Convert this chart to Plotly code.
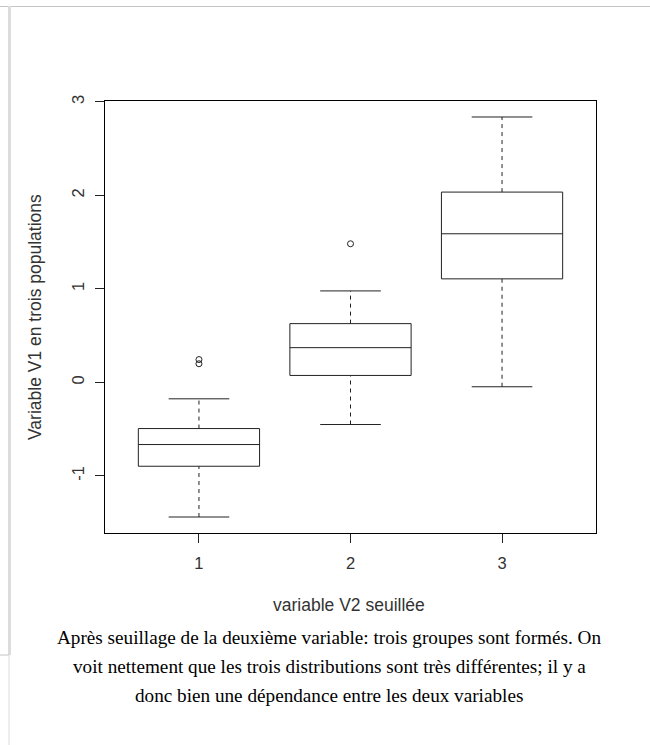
import plotly.graph_objects as go

# ---- data ----
groups = [1, 2, 3]
q1 = [-0.896, 0.075, 1.108]
median = [-0.664, 0.372, 1.590]
q3 = [-0.493, 0.629, 2.036]
lower_whisker = [-1.439, -0.450, -0.046]
upper_whisker = [-0.175, 0.979, 2.839]
outlier_x = [1, 1, 2]
outlier_y = [0.245, 0.200, 1.483]
y_ticks = [-1, 0, 1, 2, 3]
x_ticks = [1, 2, 3]

x_title = "variable V2 seuillée"
y_title = "Variable V1 en trois populations"
caption_lines = [
    "Après seuillage de la deuxième variable: trois groupes sont formés. On",
    "voit nettement que les trois distributions sont très différentes; il y a",
    "donc bien une dépendance entre les deux variables",
]

# ---- layout constants ----
FIG_W, FIG_H = 650, 745
ML, MR, MT, MB = 105, 54, 101, 212
PW, PH = FIG_W - ML - MR, FIG_H - MT - MB
BOX_W = 0.8
STAPLE_HALF = 0.2
INK = "#222222"
TEXT = "#333333"
SANS = "Liberation Sans, Arial, sans-serif"
SERIF = "Liberation Serif, Times New Roman, serif"


def px_x(px):
    return (px - ML) / PW


def px_y(py):
    return 1 - (py - MT) / PH


fig = go.Figure()

# boxes (quartiles + median)
for g, a, m, b in zip(groups, q1, median, q3):
    fig.add_trace(go.Box(
        x=[g], q1=[a], median=[m], q3=[b], lowerfence=[a], upperfence=[b],
        width=BOX_W, whiskerwidth=0, boxpoints=False,
        fillcolor="rgba(255,255,255,0)", line=dict(color=INK, width=1),
        showlegend=False, hoverinfo="skip",
    ))

# dashed whiskers
for g, a, b, lo, hi in zip(groups, q1, q3, lower_whisker, upper_whisker):
    fig.add_trace(go.Scatter(
        x=[g, g, None, g, g], y=[lo, a, None, b, hi], mode="lines",
        line=dict(color=INK, width=1, dash="4px,4px"),
        showlegend=False, hoverinfo="skip",
    ))
    # staples
    fig.add_trace(go.Scatter(
        x=[g - STAPLE_HALF, g + STAPLE_HALF, None, g - STAPLE_HALF, g + STAPLE_HALF],
        y=[lo, lo, None, hi, hi], mode="lines",
        line=dict(color=INK, width=1),
        showlegend=False, hoverinfo="skip",
    ))

# outliers
fig.add_trace(go.Scatter(
    x=outlier_x, y=outlier_y, mode="markers",
    marker=dict(symbol="circle-open", size=6, color=INK, line=dict(width=1)),
    showlegend=False, hoverinfo="skip",
))

axis_common = dict(
    showgrid=False, zeroline=False, showline=True, mirror=True,
    linecolor="black", linewidth=1, ticks="outside", ticklen=9,
    tickwidth=1, tickcolor=INK,
    tickfont=dict(family=SANS, size=16.5, color=TEXT),
)

fig.update_layout(
    width=FIG_W, height=FIG_H,
    margin=dict(l=ML, r=MR, t=MT, b=MB, pad=0),
    paper_bgcolor="white", plot_bgcolor="white",
    xaxis=dict(range=[0.38, 3.62], tickvals=x_ticks,
               ticktext=[str(v) for v in x_ticks], ticklabelstandoff=6,
               **axis_common),
    yaxis=dict(range=[-1.61, 3.01], tickvals=y_ticks,
               ticktext=[str(v) for v in y_ticks], tickangle=-90,
               ticklabelstandoff=4, **axis_common),
    showlegend=False,
)

# axis titles
fig.add_annotation(text=x_title, xref="paper", yref="paper",
                   x=px_x(349), y=px_y(605), xanchor="center", yanchor="middle",
                   showarrow=False, font=dict(family=SANS, size=17.5, color=TEXT))
fig.add_annotation(text=y_title, xref="paper", yref="paper",
                   x=px_x(35), y=px_y(317), xanchor="center", yanchor="middle",
                   textangle=-90, showarrow=False,
                   font=dict(family=SANS, size=17.5, color=TEXT))

# caption
for line, ypx in zip(caption_lines, [637, 666, 695]):
    fig.add_annotation(text=line, xref="paper", yref="paper",
                       x=px_x(329), y=px_y(ypx), xanchor="center", yanchor="middle",
                       showarrow=False, font=dict(family=SERIF, size=19.2, color="black"))

# page frame decoration
frame = [
    dict(x0=0, x1=FIG_W, y0=6.5, y1=6.5, color="#c4c4c4", w=1),
    dict(x0=9.5, x1=9.5, y0=6, y1=655, color="#dcdcdc", w=3),
    dict(x0=0, x1=9, y0=655, y1=655, color="#c4c4c4", w=1),
    dict(x0=9, x1=9, y0=655, y1=FIG_H, color="#dcdcdc", w=1),
]
for f in frame:
    fig.add_shape(type="line", xref="paper", yref="paper",
                  x0=px_x(f["x0"]), x1=px_x(f["x1"]),
                  y0=px_y(f["y0"]), y1=px_y(f["y1"]),
                  line=dict(color=f["color"], width=f["w"]), layer="below")

fig.write_html("out.html")
